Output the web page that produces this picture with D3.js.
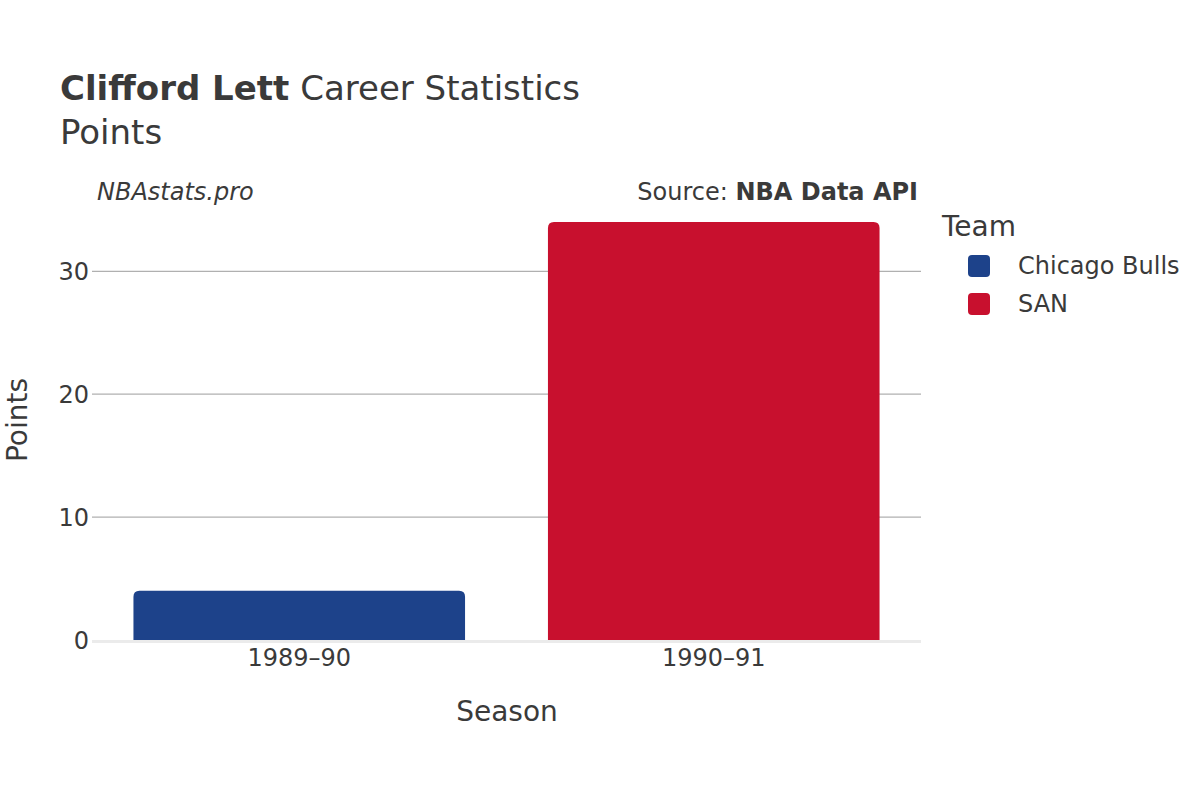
<!DOCTYPE html>
<html><head><meta charset="utf-8">
<script src="https://cdn.jsdelivr.net/npm/d3@7"></script>
<style>body{margin:0;background:#fff}svg{font-family:"DejaVu Sans",sans-serif}</style>
</head><body><svg id="c" width="1200" height="800"></svg>
<script>
const seasons = ["1989–90", "1990–91"];
const teams = ["Chicago Bulls", "SAN"];
const points = [4, 34];
const teamColors = ["#1d428a", "#c8102e"];
const yTicks = [0, 10, 20, 30];

const svg = d3.select("#c");
const txt = "#3a3a3a";
const x = d3.scaleBand().domain(seasons).range([92, 921]).paddingInner(0.2).paddingOuter(0.1);
const y = d3.scaleLinear().domain([0, 35.8]).range([640, 200]);
const color = d3.scaleOrdinal().domain(teams).range(teamColors);

// grid
svg.append("g").selectAll("line").data(yTicks.filter(d => d > 0)).join("line")
  .attr("x1", 92).attr("x2", 921).attr("y1", d => y(d)).attr("y2", d => y(d))
  .attr("stroke", "#b0b0b0").attr("stroke-width", 1.2);

// bars with rounded top
function barPath(x0, w, yTop, yBot, r) {
  return `M${x0},${yBot} V${yTop + r} Q${x0},${yTop} ${x0 + r},${yTop} H${x0 + w - r} Q${x0 + w},${yTop} ${x0 + w},${yTop + r} V${yBot} Z`;
}
svg.append("g").selectAll("path").data(seasons).join("path")
  .attr("d", (s, i) => barPath(x(s), x.bandwidth(), y(points[i]), y(0), 6))
  .attr("fill", (s, i) => color(teams[i]));

// zero line
svg.append("line").attr("x1", 92).attr("x2", 921).attr("y1", y(0) + 1.5).attr("y2", y(0) + 1.5)
  .attr("stroke", "#ebebeb").attr("stroke-width", 3);

// y axis
const ya = svg.append("g").attr("transform", "translate(92,0)")
  .call(d3.axisLeft(y).tickValues(yTicks).tickSize(0).tickPadding(3));
ya.select(".domain").remove();
ya.selectAll("text").attr("font-size", 24).attr("fill", txt).attr("font-family", "DejaVu Sans").attr("dy", "0.35em");

// x axis
const xa = svg.append("g").attr("transform", `translate(0,${y(0)})`)
  .call(d3.axisBottom(x).tickSize(0).tickPadding(9));
xa.select(".domain").remove();
xa.selectAll("text").attr("font-size", 24).attr("fill", txt).attr("font-family", "DejaVu Sans");

// titles
const t = svg.append("text").attr("x", 60).attr("y", 100).attr("font-size", 34).attr("fill", txt);
t.append("tspan").attr("font-weight", "bold").text("Clifford Lett");
t.append("tspan").text(" Career Statistics");
svg.append("text").attr("x", 60).attr("y", 144).attr("font-size", 34).attr("fill", txt).text("Points");

svg.append("text").attr("x", 97).attr("y", 200).attr("font-size", 24).attr("font-style", "italic").attr("fill", txt).text("NBAstats.pro");
const src = svg.append("text").attr("x", 918).attr("y", 200).attr("font-size", 24).attr("text-anchor", "end").attr("fill", txt);
src.append("tspan").text("Source: ");
src.append("tspan").attr("font-weight", "bold").text("NBA Data API");

svg.append("text").attr("x", 507).attr("y", 721).attr("font-size", 28).attr("text-anchor", "middle").attr("fill", txt).text("Season");
svg.append("text").attr("transform", "translate(27,420) rotate(-90)").attr("font-size", 28).attr("text-anchor", "middle").attr("fill", txt).text("Points");

// legend
svg.append("text").attr("x", 942).attr("y", 236).attr("font-size", 28).attr("fill", txt).text("Team");
const lg = svg.append("g").selectAll("g").data(teams).join("g")
  .attr("transform", (d, i) => `translate(968,${255 + i * 38})`);
lg.append("rect").attr("width", 22).attr("height", 22).attr("rx", 4).attr("fill", d => color(d));
lg.append("text").attr("x", 50).attr("y", 11).attr("dy", "0.35em").attr("font-size", 24).attr("fill", txt).text(d => d);
</script></body></html>
